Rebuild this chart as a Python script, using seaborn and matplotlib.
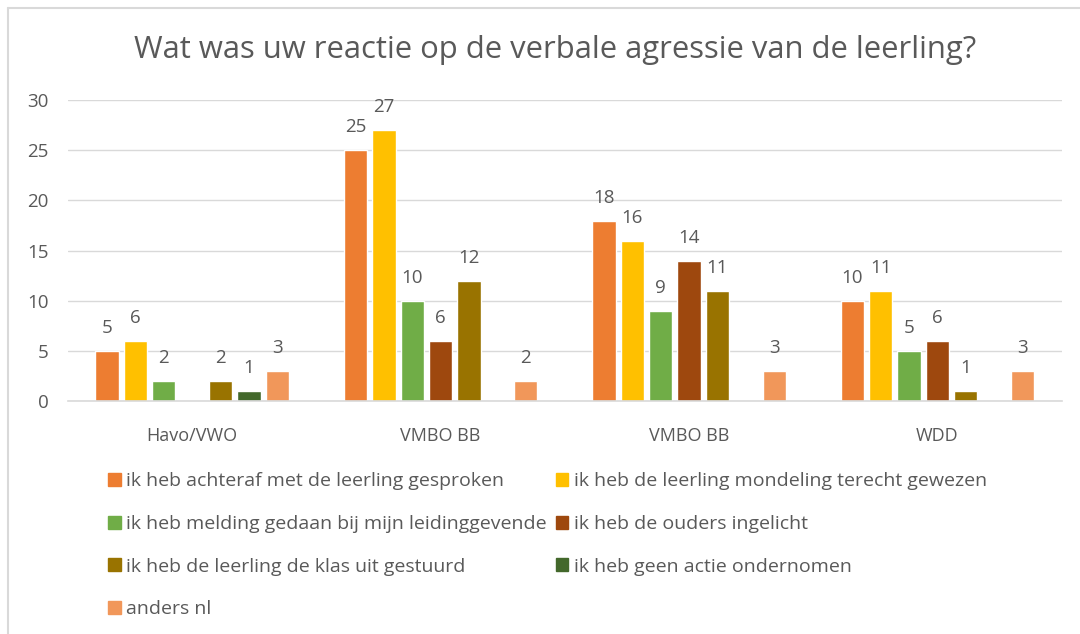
import numpy as np
import pandas as pd
import matplotlib
matplotlib.use("Agg")
import matplotlib.pyplot as plt
import seaborn as sns

# chart data
groups = ["Havo/VWO", "VMBO BB", "VMBO BB", "WDD"]
series = [
    "ik heb achteraf met de leerling gesproken",
    "ik heb de leerling mondeling terecht gewezen",
    "ik heb melding gedaan bij mijn leidinggevende",
    "ik heb de ouders ingelicht",
    "ik heb de leerling de klas uit gestuurd",
    "ik heb geen actie ondernomen",
    "anders nl",
]
achteraf = [5, 25, 18, 10]
mondeling = [6, 27, 16, 11]
melding = [2, 10, 9, 5]
ouders = [np.nan, 6, 14, 6]
klas_uit = [2, 12, 11, 1]
geen_actie = [1, np.nan, np.nan, np.nan]
anders = [3, 2, 3, 3]
colors = ["#ED7D31", "#FFC000", "#70AD47", "#9E480E", "#997300", "#43682B", "#F1975A"]

values = [achteraf, mondeling, melding, ouders, klas_uit, geen_actie, anders]

# long format, group index as key because "VMBO BB" appears twice
rows = []
for name, vals in zip(series, values):
    for i, v in enumerate(vals):
        rows.append({"group": i, "reactie": name, "aantal": v})
df = pd.DataFrame(rows)

sns.set_theme(style="white")
plt.rcParams["font.family"] = ["Open Sans", "DejaVu Sans"]
text_color = "#595959"
grid_color = "#D9D9D9"

fig = plt.figure(figsize=(10.8, 6.34), dpi=100)
ax = fig.add_axes([0.063, 0.3675, 0.92, 0.4745])

sns.barplot(data=df, x="group", y="aantal", hue="reactie", hue_order=series,
            palette=colors, width=0.8, gap=0.18, errorbar=None, legend=False,
            saturation=1, ax=ax)

# data labels, skip missing bars
for cont in ax.containers:
    labels = ["" if np.isnan(v) else f"{v:g}" for v in cont.datavalues]
    ax.bar_label(cont, labels=labels, padding=10, fontsize=13.5, color=text_color)

ax.set_ylim(0, 30)
ax.set_yticks(range(0, 31, 5))
ax.set_xlim(-0.5, 3.5)
ax.set_xticks(range(len(groups)))
ax.set_xticklabels(groups)
ax.yaxis.grid(True, color=grid_color, linewidth=1)
ax.set_axisbelow(True)
for side in ["top", "right", "left"]:
    ax.spines[side].set_visible(False)
ax.spines["bottom"].set_color(grid_color)
ax.spines["bottom"].set_linewidth(1.2)
ax.tick_params(axis="y", length=0, pad=14, labelsize=13.5, labelcolor=text_color)
ax.tick_params(axis="x", length=0, pad=19, labelsize=13, labelcolor=text_color)
ax.set_xlabel("")
ax.set_ylabel("")

fig.text(555 / 1080, 1 - 50 / 634, "Wat was uw reactie op de verbale agressie van de leerling?",
         ha="center", va="center", fontsize=22.3, color=text_color)

# legend is filled column by column, so reorder to read row by row
order = [0, 2, 4, 6, 1, 3, 5]
handles = [plt.Rectangle((0, 0), 1, 1, color=colors[i]) for i in order]
labels = [series[i] for i in order]
fig.legend(handles, labels, loc="upper left", bbox_to_anchor=(0.1, 0.255),
           ncol=2, frameon=False, fontsize=14, labelcolor=text_color,
           handlelength=0.65, handleheight=0.65, handletextpad=0.3,
           columnspacing=0.45, labelspacing=1.27, borderaxespad=0, borderpad=0)

# thin chart border at the left and top like the screenshot
fig.add_artist(plt.Line2D([0.0075, 0.0075], [0, 1 - 8 / 634], color=grid_color, linewidth=1.5))
fig.add_artist(plt.Line2D([0.0075, 1], [1 - 8 / 634, 1 - 8 / 634], color=grid_color, linewidth=1.5))

fig.savefig("out.png", dpi=100)
